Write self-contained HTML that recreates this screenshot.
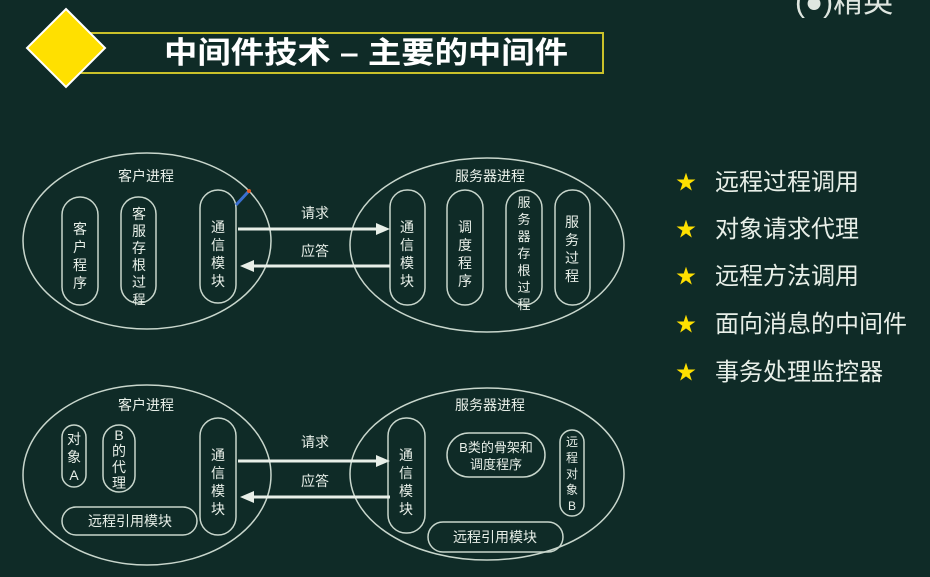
<!DOCTYPE html>
<html><head><meta charset="utf-8"><style>
html,body{margin:0;padding:0;background:#0f2b27;}
svg{display:block;}
text{font-family:"Liberation Sans","Noto Sans CJK SC",sans-serif;fill:#e8efe8;}
text.star{fill:#ffe000;}
</style></head><body>
<svg width="930" height="577" viewBox="0 0 930 577" xmlns="http://www.w3.org/2000/svg">
<rect width="930" height="577" fill="#0f2b27"/>
<text x="795" y="12" font-size="30" style="fill:#dfe6e0">(●)精英</text>
<!-- title -->
<rect x="80" y="33" width="523" height="40" fill="none" stroke="#c9c12a" stroke-width="2"/>
<polygon points="66,9 105,48 66,87 27,48" fill="#ffe000" stroke="#ffffff" stroke-width="2"/>
<text x="164" y="63" font-size="30" font-weight="bold" textLength="404" lengthAdjust="spacingAndGlyphs" style="fill:#ffffff">中间件技术 – 主要的中间件</text>

<g fill="none" stroke="#c8d6cc" stroke-width="1.5">
<ellipse cx="147" cy="241" rx="124" ry="88"/>
<ellipse cx="487" cy="245" rx="137" ry="87"/>
<rect x="62" y="197" width="36" height="108" rx="18"/>
<rect x="121" y="197" width="35" height="106" rx="17"/>
<rect x="200" y="190" width="36" height="113" rx="18"/>
<rect x="390" y="190" width="35" height="115" rx="17"/>
<rect x="447" y="190" width="36" height="115" rx="18"/>
<rect x="506" y="190" width="36" height="115" rx="18"/>
<rect x="555" y="190" width="35" height="115" rx="17"/>
<ellipse cx="147" cy="475" rx="124" ry="90"/>
<ellipse cx="487" cy="474" rx="137" ry="86"/>
<rect x="62" y="425" width="24" height="62" rx="12"/>
<rect x="103" y="425" width="32" height="67" rx="16"/>
<rect x="200" y="418" width="36" height="117" rx="18"/>
<rect x="62" y="507" width="135" height="28" rx="14"/>
<rect x="388" y="418" width="37" height="115" rx="18"/>
<rect x="447" y="433" width="98" height="44" rx="22"/>
<rect x="560" y="430" width="24" height="86" rx="12"/>
<rect x="428" y="522" width="135" height="30" rx="15"/>
</g>
<g stroke="#e8efe8" stroke-width="3" fill="#e8efe8">
<line x1="238" y1="229" x2="378" y2="229"/><polygon points="390,229 376,223 376,235" stroke="none"/>
<line x1="390" y1="266" x2="252" y2="266"/><polygon points="240,266 254,260 254,272" stroke="none"/>
<line x1="238" y1="461" x2="378" y2="461"/><polygon points="390,461 376,455 376,467" stroke="none"/>
<line x1="390" y1="497" x2="252" y2="497"/><polygon points="240,497 254,491 254,503" stroke="none"/>
</g>
<line x1="236" y1="205" x2="248" y2="192" stroke="#3a6fd0" stroke-width="3"/>
<circle cx="249" cy="191" r="2" fill="#e05a2a"/>

<g font-size="14" text-anchor="middle">
<text x="315" y="218">请求</text><text x="315" y="256">应答</text>
<text x="315" y="447">请求</text><text x="315" y="486">应答</text>
<text x="146" y="181">客户进程</text><text x="490" y="181">服务器进程</text>
<text x="146" y="410">客户进程</text><text x="490" y="410">服务器进程</text>
</g>
<g font-size="14" text-anchor="middle">
<text x="80" y="234">客</text><text x="80" y="252">户</text><text x="80" y="270">程</text><text x="80" y="288">序</text>
<text x="139" y="219">客</text><text x="139" y="236">服</text><text x="139" y="253">存</text><text x="139" y="270">根</text><text x="139" y="287">过</text><text x="139" y="304" font-size="13">程</text>
<text x="218" y="232">通</text><text x="218" y="250">信</text><text x="218" y="268">模</text><text x="218" y="286">块</text>
<text x="407" y="232">通</text><text x="407" y="250">信</text><text x="407" y="268">模</text><text x="407" y="286">块</text>
<text x="465" y="232">调</text><text x="465" y="250">度</text><text x="465" y="268">程</text><text x="465" y="286">序</text>
</g>
<g font-size="13" text-anchor="middle">
<text x="524" y="207">服</text><text x="524" y="224">务</text><text x="524" y="241">器</text><text x="524" y="258">存</text><text x="524" y="275">根</text><text x="524" y="292">过</text><text x="524" y="309">程</text>
</g>
<g font-size="14" text-anchor="middle">
<text x="572" y="227">服</text><text x="572" y="245">务</text><text x="572" y="263">过</text><text x="572" y="281">程</text>
<text x="74" y="444">对</text><text x="74" y="462">象</text><text x="74" y="480">A</text>
<text x="119" y="440">B</text><text x="119" y="456">的</text><text x="119" y="472">代</text><text x="119" y="488">理</text>
<text x="218" y="460">通</text><text x="218" y="478">信</text><text x="218" y="496">模</text><text x="218" y="514">块</text>
<text x="130" y="526">远程引用模块</text>
<text x="406" y="460">通</text><text x="406" y="478">信</text><text x="406" y="496">模</text><text x="406" y="514">块</text>
<text x="496" y="452" font-size="13">B类的骨架和</text><text x="496" y="469" font-size="13">调度程序</text>
<text x="495" y="542">远程引用模块</text>
</g>
<g font-size="12" text-anchor="middle">
<text x="572" y="446">远</text><text x="572" y="462">程</text><text x="572" y="478">对</text><text x="572" y="494">象</text><text x="572" y="510">B</text>
</g>
<g font-size="24">
<text x="676" y="189" class="star" font-size="20">★</text><text x="715" y="190">远程过程调用</text>
<text x="676" y="236" class="star" font-size="20">★</text><text x="715" y="237">对象请求代理</text>
<text x="676" y="283" class="star" font-size="20">★</text><text x="715" y="284">远程方法调用</text>
<text x="676" y="331" class="star" font-size="20">★</text><text x="715" y="332">面向消息的中间件</text>
<text x="676" y="379" class="star" font-size="20">★</text><text x="715" y="380">事务处理监控器</text>
</g>
</svg>
</body></html>
